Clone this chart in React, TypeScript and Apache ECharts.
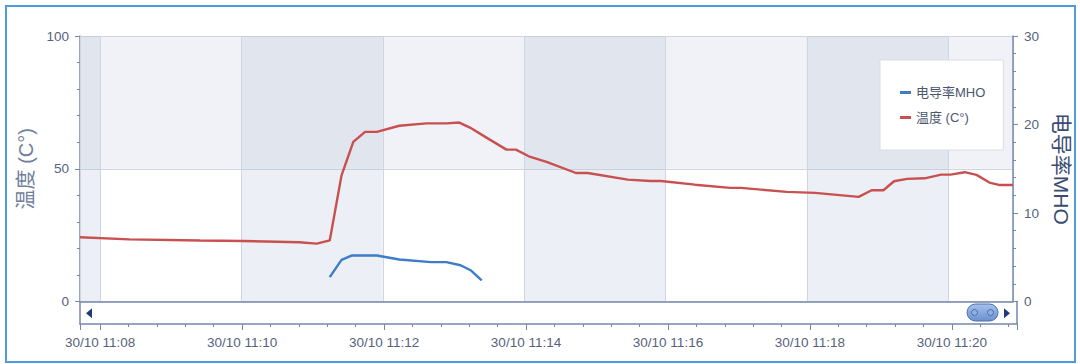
import React, { useEffect, useRef } from "react";
import * as echarts from "echarts";

const dayLabel = "30/10";
const baseHour = 11;
const xRangeStart = "11:07:43";
const xRangeEnd = "11:20:55";

const tempName = "温度 (C°)";
const condName = "电导率MHO";

const tempTimes = [
  "11:07:43", "11:08:25", "11:09:25", "11:10:01", "11:10:49", "11:11:04", "11:11:15", "11:11:25",
  "11:11:35", "11:11:45", "11:11:55", "11:12:14", "11:12:37", "11:12:54", "11:13:05", "11:13:14",
  "11:13:27", "11:13:45", "11:13:53", "11:14:04", "11:14:19", "11:14:44", "11:14:54", "11:15:28",
  "11:15:47", "11:15:56", "11:16:25", "11:16:55", "11:17:04", "11:17:43", "11:18:07", "11:18:44",
  "11:18:55", "11:19:05", "11:19:14", "11:19:25", "11:19:40", "11:19:54", "11:20:02", "11:20:14",
  "11:20:24", "11:20:35", "11:20:43", "11:20:55",
];
const tempValues = [
  24.2, 23.4, 23.0, 22.8, 22.3, 21.8, 23.0, 47.5,
  60.1, 63.9, 63.9, 66.2, 67.1, 67.1, 67.4, 65.5,
  62.0, 57.2, 57.2, 54.7, 52.6, 48.4, 48.4, 45.9,
  45.4, 45.4, 44.0, 42.8, 42.8, 41.3, 40.9, 39.4,
  41.9, 41.9, 45.3, 46.2, 46.4, 47.8, 47.8, 48.7,
  47.7, 44.8, 43.9, 43.9,
];

const condTimes = [
  "11:11:15", "11:11:25", "11:11:34", "11:11:55", "11:12:14",
  "11:12:41", "11:12:54", "11:13:06", "11:13:15", "11:13:24",
];
const condValues = [2.75, 4.7, 5.2, 5.2, 4.75, 4.45, 4.45, 4.1, 3.5, 2.4];

const tempAxisMin = 0;
const tempAxisMax = 100;
const tempAxisInterval = 50;
const condAxisMin = 0;
const condAxisMax = 30;
const condAxisInterval = 10;

const toMinutes = (t: string) => {
  const [h, m, s] = t.split(":").map(Number);
  return (h - baseHour) * 60 + m + s / 60;
};

const pad = (n: number) => (n < 10 ? "0" + n : "" + n);
const fmtX = (v: number) => {
  const total = Math.round(v);
  const h = baseHour + Math.floor(total / 60);
  const m = total % 60;
  return `${dayLabel} ${h}:${pad(m)}`;
};

const AXIS = "#7788ad";
const SPLIT = "#cfd6e2";
const LABEL = "#56627d";
const FONT = "'Liberation Sans', 'Noto Sans CJK SC', sans-serif";
const CJK = "'Liberation Sans', 'Noto Sans CJK SC', sans-serif";

export default function App() {
  const ref = useRef<HTMLDivElement>(null);
  useEffect(() => {
    if (!ref.current) return;
    const chart = echarts.init(ref.current, undefined, { renderer: "svg" });
    const xMin = toMinutes(xRangeStart);
    const xMax = toMinutes(xRangeEnd);
    const tempData = tempTimes.map((t, i) => [toMinutes(t), tempValues[i]]);
    const condData = condTimes.map((t, i) => [toMinutes(t), condValues[i]]);

    chart.setOption({
      animation: false,
      backgroundColor: "#ffffff",
      grid: [
        { left: 80, right: 63, top: 36, height: 265.5 },
        { left: 80, right: 63, top: 301.5, height: 22.5 },
      ],
      legend: {
        orient: "vertical",
        left: 880,
        top: 60,
        padding: [26, 18, 26, 20],
        itemGap: 12,
        itemWidth: 11,
        itemHeight: 3,
        icon: "rect",
        backgroundColor: "#ffffff",
        borderColor: "#d8dde6",
        borderWidth: 1,
        textStyle: { fontSize: 13, color: "#4b566f", fontFamily: CJK },
        data: [condName, tempName],
      },
      xAxis: [
        {
          type: "value",
          gridIndex: 0,
          min: xMin,
          max: xMax,
          splitNumber: 7,
          z: 1,
          axisLine: { show: true, onZero: false, lineStyle: { color: AXIS, width: 1.5 } },
          axisTick: { show: false },
          axisLabel: { show: false },
          splitLine: { show: true, lineStyle: { color: SPLIT, width: 1 } },
          splitArea: {
            show: true,
            areaStyle: { color: ["rgba(170,182,210,0.22)", "rgba(0,0,0,0)"] },
          },
        },
        {
          type: "value",
          gridIndex: 1,
          min: xMin,
          max: xMax,
          splitNumber: 7,
          position: "bottom",
          axisLine: { show: true, onZero: false, lineStyle: { color: AXIS, width: 1.5 } },
          axisTick: { show: true, length: 6, lineStyle: { color: AXIS } },
          minorTick: { show: true, splitNumber: 5, length: 3, lineStyle: { color: AXIS } },
          splitLine: { show: false },
          axisLabel: {
            show: true,
            margin: 12,
            fontSize: 13.5,
            color: LABEL,
            fontFamily: FONT,
            showMinLabel: false,
            showMaxLabel: false,
            formatter: (v: number) => fmtX(v),
          },
        },
      ],
      yAxis: [
        {
          type: "value",
          gridIndex: 0,
          position: "left",
          min: tempAxisMin,
          max: tempAxisMax,
          interval: tempAxisInterval,
          z: 0,
          name: tempName,
          nameLocation: "middle",
          nameGap: 44,
          nameTextStyle: { fontSize: 20, color: "#6f7e9b", fontFamily: CJK },
          axisLine: { show: true, onZero: false, lineStyle: { color: AXIS, width: 1.5 } },
          axisTick: { show: true, length: 5, lineStyle: { color: AXIS } },
          minorTick: { show: true, splitNumber: 5, length: 3, lineStyle: { color: AXIS } },
          axisLabel: { margin: 11, fontSize: 13.5, color: LABEL, fontFamily: FONT },
          splitLine: { show: true, lineStyle: { color: SPLIT, width: 1 } },
          splitArea: { show: true, areaStyle: { color: ["#ffffff", "#f0f2f7"] } },
        },
        {
          type: "value",
          gridIndex: 0,
          position: "right",
          min: condAxisMin,
          max: condAxisMax,
          interval: condAxisInterval,
          z: 2,
          name: condName,
          nameLocation: "middle",
          nameRotate: -90,
          nameGap: 38,
          nameTextStyle: { fontSize: 21, color: "#3a4c72", fontFamily: CJK },
          axisLine: { show: true, onZero: false, lineStyle: { color: AXIS, width: 1.5 } },
          axisTick: { show: true, length: 5, lineStyle: { color: AXIS } },
          minorTick: { show: true, splitNumber: 5, length: 3, lineStyle: { color: AXIS } },
          axisLabel: { margin: 11, fontSize: 13.5, color: LABEL, fontFamily: FONT },
          splitLine: { show: false },
        },
        {
          type: "value",
          gridIndex: 1,
          position: "left",
          min: 0,
          max: 1,
          axisLine: { show: true, onZero: false, lineStyle: { color: AXIS, width: 1.5 } },
          axisTick: { show: false },
          axisLabel: { show: false },
          splitLine: { show: false },
        },
        {
          type: "value",
          gridIndex: 1,
          position: "right",
          min: 0,
          max: 1,
          axisLine: { show: true, onZero: false, lineStyle: { color: AXIS, width: 1.5 } },
          axisTick: { show: false },
          axisLabel: { show: false },
          splitLine: { show: false },
        },
      ],
      series: [
        {
          name: condName,
          type: "line",
          xAxisIndex: 0,
          yAxisIndex: 1,
          data: condData,
          showSymbol: false,
          symbol: "none",
          z: 5,
          itemStyle: { color: "#3d7cc9" },
          lineStyle: { color: "#3d7cc9", width: 2.4 },
        },
        {
          name: tempName,
          type: "line",
          xAxisIndex: 0,
          yAxisIndex: 0,
          data: tempData,
          showSymbol: false,
          symbol: "none",
          z: 5,
          itemStyle: { color: "#c8504e" },
          lineStyle: { color: "#c8504e", width: 2.4 },
        },
      ],
      graphic: [
        {
          type: "rect",
          z: 20,
          silent: true,
          shape: { x: 6, y: 6, width: 1069, height: 356 },
          style: { fill: "none", stroke: "#4f9be0", lineWidth: 2 },
        },
        {
          type: "polygon",
          z: 20,
          shape: { points: [[86, 313.3], [92, 308.3], [92, 318.3]] },
          style: { fill: "#1f3a7a" },
        },
        {
          type: "polygon",
          z: 20,
          shape: { points: [[1010, 313.3], [1004, 308.3], [1004, 318.3]] },
          style: { fill: "#1f3a7a" },
        },
        {
          type: "rect",
          z: 20,
          shape: { x: 967, y: 304, width: 31, height: 17, r: 8.5 },
          style: {
            fill: new echarts.graphic.LinearGradient(0, 0, 0, 1, [
              { offset: 0, color: "#a7c1ea" },
              { offset: 1, color: "#6a90d0" },
            ]),
            stroke: "#4a6db0",
            lineWidth: 1,
          },
        },
        {
          type: "circle",
          z: 21,
          shape: { cx: 974.5, cy: 312.5, r: 3 },
          style: { fill: "#8fb0e2", stroke: "#4a6db0", lineWidth: 1 },
        },
        {
          type: "circle",
          z: 21,
          shape: { cx: 990.5, cy: 312.5, r: 3 },
          style: { fill: "#8fb0e2", stroke: "#4a6db0", lineWidth: 1 },
        },
      ],
    });
    return () => chart.dispose();
  }, []);

  return (
    <div style={{ position: "fixed", left: 0, top: 0, width: 1080, height: 364, background: "#fff" }}>
      <div ref={ref} style={{ width: 1080, height: 364 }} />
    </div>
  );
}
